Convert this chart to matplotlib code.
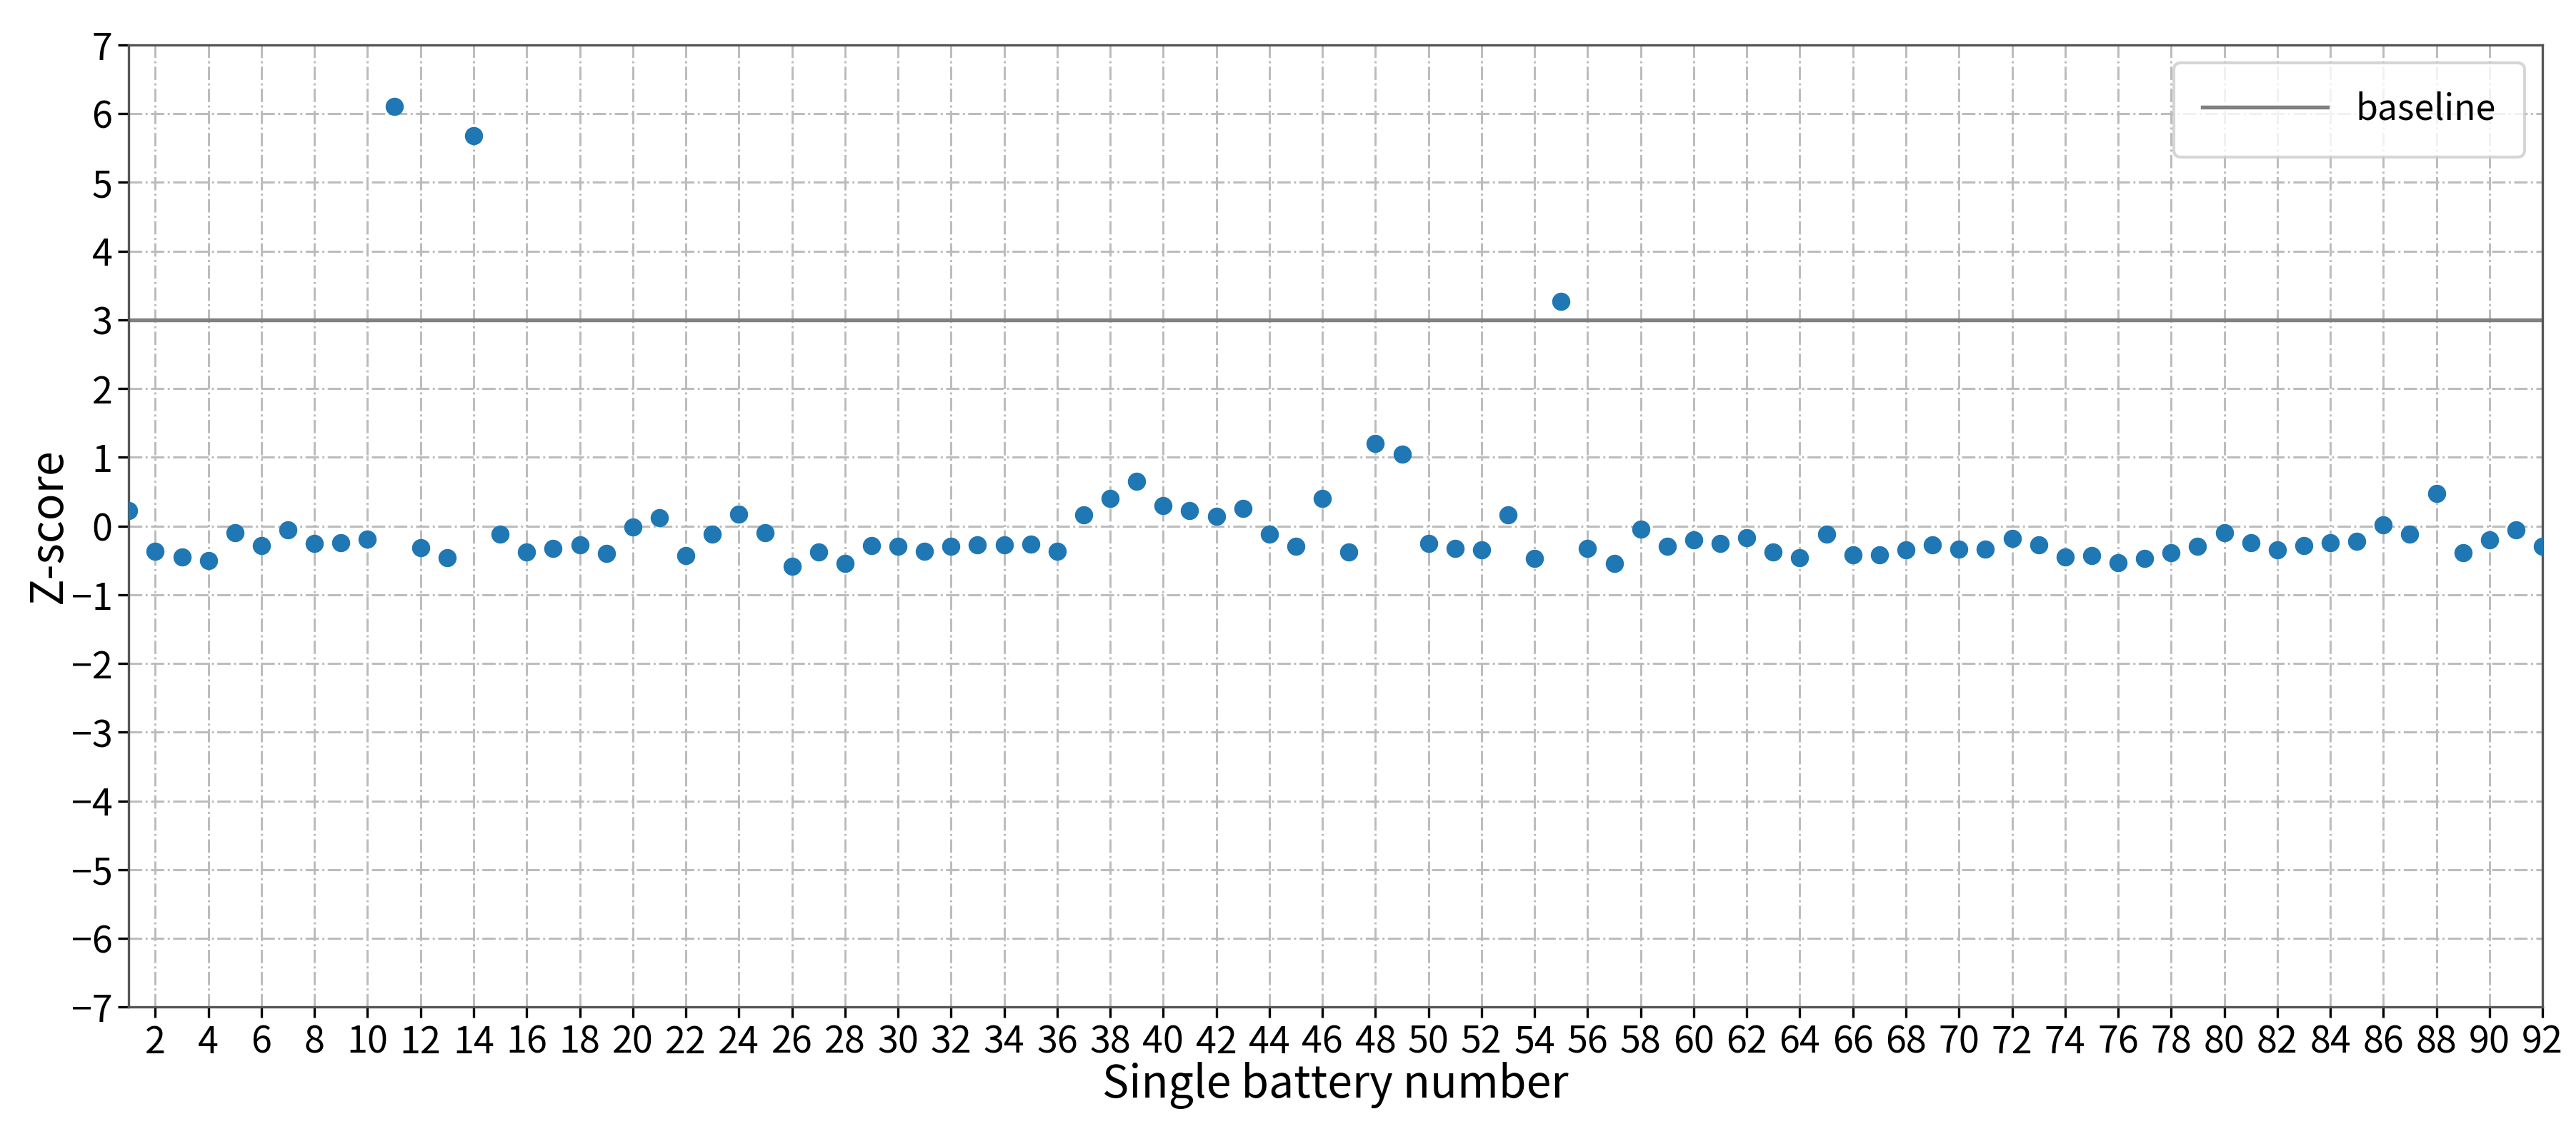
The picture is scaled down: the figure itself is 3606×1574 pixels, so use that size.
import numpy as np
import matplotlib
matplotlib.use('Agg')
import matplotlib.pyplot as plt

plt.rcParams['font.family'] = ['Noto Sans CJK SC', 'DejaVu Sans']

# 电池编号与 Z-score
battery_no = np.arange(1, 93)
z_score = [
    0.22, -0.37, -0.45, -0.50, -0.10, -0.28, -0.06, -0.25, -0.24, -0.19,
    6.10, -0.32, -0.46, 5.68, -0.12, -0.38, -0.33, -0.27, -0.40, -0.01,
    0.12, -0.43, -0.12, 0.17, -0.10, -0.59, -0.38, -0.54, -0.28, -0.30,
    -0.37, -0.30, -0.27, -0.27, -0.26, -0.37, 0.16, 0.40, 0.65, 0.30,
    0.22, 0.14, 0.26, -0.12, -0.30, 0.40, -0.38, 1.20, 1.04, -0.25,
    -0.33, -0.35, 0.16, -0.47, 3.27, -0.33, -0.54, -0.05, -0.30, -0.20,
    -0.25, -0.17, -0.38, -0.46, -0.12, -0.42, -0.42, -0.35, -0.27, -0.34,
    -0.34, -0.18, -0.27, -0.45, -0.43, -0.53, -0.47, -0.39, -0.30, -0.10,
    -0.24, -0.35, -0.28, -0.24, -0.22, 0.02, -0.12, 0.47, -0.39, -0.20,
    -0.06, -0.30,
]
baseline = 3
x_ticks = np.arange(2, 93, 2)
y_ticks = np.arange(-7, 8, 1)

fig = plt.figure(figsize=(12.02, 5.247), dpi=300)
ax = fig.add_axes([0.05, 0.104, 0.937, 0.856])

ax.scatter(battery_no, z_score, s=26, color='#1f77b4', zorder=3)
ax.axhline(baseline, color='#808080', lw=1.3, label='baseline', zorder=2)

ax.set_xlim(1, 92)
ax.set_ylim(-7, 7)
ax.set_xticks(x_ticks)
ax.set_yticks(y_ticks)
ax.tick_params(labelsize=12.5, pad=2)
ax.grid(True, linestyle='-.', color='#bbbbbb', lw=0.7)
for s in ax.spines.values():
    s.set_color('#555555')

ax.set_xlabel('Single battery number', fontsize=15, labelpad=0)
ax.set_ylabel('Z-score', fontsize=15, labelpad=0)
ax.legend(loc='upper right', fontsize=12, handlelength=3.5, borderpad=0.8)

fig.savefig('out.png')
